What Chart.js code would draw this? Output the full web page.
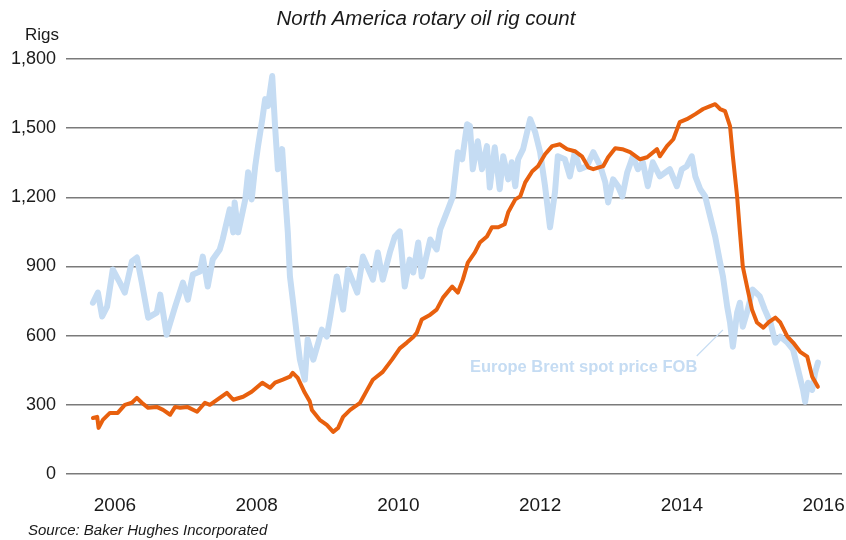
<!DOCTYPE html>
<html lang="en">
<head>
  <meta charset="UTF-8" />
  <title>North America rotary oil rig count</title>
  <style>
    * { box-sizing: border-box; margin: 0; padding: 0; }
    body {
      background: #fff;
      font-family: 'Liberation Sans', Arial, sans-serif;
      color: #1a1a1a;
    }
    .wrap {
      position: relative;
      width: 846px;
      height: 540px;
    }
    canvas { position: absolute; left: 0; top: 0; }
    .title {
      position: absolute;
      left: 0;
      width: 852px;
      top: 6px;
      text-align: center;
      font-size: 20.5px;
      font-style: italic;
    }
    .unit {
      position: absolute;
      left: 25px;
      top: 25px;
      font-size: 17px;
    }
    .source {
      position: absolute;
      left: 28px;
      top: 521px;
      font-size: 15px;
      font-style: italic;
    }
  </style>
</head>
<body>
  <div class="wrap">
    <canvas id="rigChart" width="846" height="540"></canvas>
    <div class="title">North America rotary oil rig count</div>
    <div class="unit">Rigs</div>
    <div class="source">Source: Baker Hughes Incorporated</div>
  </div>

  <script src="https://cdn.jsdelivr.net/npm/chart.js"></script>
  <script>
// axis labels
const yearTicks = [2006, 2008, 2010, 2012, 2014, 2016];
const rigTicks = [0, 300, 600, 900, 1200, 1500, 1800];

// Europe Brent spot price FOB (scaled onto the rig axis)
const brentYears = [
  2005.69, 2005.76, 2005.82, 2005.89, 2005.97, 2006.07, 2006.14, 2006.24, 2006.31, 2006.38,
  2006.47, 2006.59, 2006.64, 2006.73, 2006.85, 2006.96, 2007.03, 2007.10, 2007.20, 2007.24,
  2007.31, 2007.38, 2007.48, 2007.52, 2007.62, 2007.67, 2007.69, 2007.74, 2007.84, 2007.88,
  2007.93, 2007.98, 2008.02, 2008.08, 2008.12, 2008.16, 2008.22, 2008.26, 2008.30, 2008.36,
  2008.40, 2008.44, 2008.47, 2008.51, 2008.57, 2008.61, 2008.68, 2008.72, 2008.80, 2008.87,
  2008.92, 2008.99, 2009.04, 2009.13, 2009.22, 2009.29, 2009.42, 2009.50, 2009.64, 2009.71,
  2009.78, 2009.88, 2009.95, 2010.02, 2010.09, 2010.16, 2010.21, 2010.28, 2010.33, 2010.45,
  2010.54, 2010.59, 2010.70, 2010.77, 2010.84, 2010.90, 2010.97, 2011.01, 2011.05, 2011.12,
  2011.18, 2011.25, 2011.29, 2011.36, 2011.43, 2011.48, 2011.55, 2011.60, 2011.65, 2011.69,
  2011.76, 2011.86, 2011.93, 2012.00, 2012.07, 2012.14, 2012.21, 2012.25, 2012.35, 2012.42,
  2012.49, 2012.56, 2012.66, 2012.75, 2012.85, 2012.92, 2012.96, 2013.03, 2013.10, 2013.16,
  2013.23, 2013.31, 2013.38, 2013.45, 2013.52, 2013.59, 2013.69, 2013.83, 2013.93, 2014.00,
  2014.07, 2014.14, 2014.19, 2014.26, 2014.33, 2014.40, 2014.47, 2014.54, 2014.58, 2014.64,
  2014.68, 2014.72, 2014.78, 2014.82, 2014.86, 2014.93, 2015.00, 2015.10, 2015.17, 2015.25,
  2015.32, 2015.39, 2015.49, 2015.57, 2015.64, 2015.71, 2015.74, 2015.78, 2015.84, 2015.88,
  2015.92
];
const brentValues = [
  743, 787, 683, 726, 887, 830, 787, 922, 939, 830,
  678, 700, 778, 604, 726, 830, 756, 865, 878, 943,
  813, 930, 974, 1017, 1148, 1048, 1178, 1048, 1191, 1309,
  1191, 1335, 1422, 1539, 1626, 1596, 1726, 1509, 1322, 1409,
  1222, 1048, 857, 756, 596, 496, 409, 583, 496, 570,
  626, 596, 683, 857, 713, 887, 787, 943, 843, 961,
  843, 961, 1030, 1052, 813, 930, 874, 1004, 857, 1017,
  974, 1061, 1148, 1204, 1396, 1365, 1517, 1509, 1322, 1443,
  1322, 1422, 1243, 1417, 1235, 1378, 1278, 1352, 1248, 1365,
  1409, 1539, 1483, 1396, 1248, 1070, 1222, 1378, 1365, 1291,
  1396, 1322, 1335, 1396, 1335, 1265, 1178, 1278, 1248, 1204,
  1309, 1378, 1322, 1352, 1248, 1352, 1291, 1322, 1248, 1322,
  1335, 1378, 1291, 1235, 1204, 1117, 1030, 917, 857, 726,
  657, 552, 700, 743, 639, 713, 800, 770, 713, 657,
  570, 596, 570, 539, 452, 365, 313, 396, 365, 439,
  483
];

// rig count
const rigYears = [
  2005.69, 2005.75, 2005.77, 2005.83, 2005.93, 2006.04, 2006.14, 2006.24, 2006.31, 2006.38,
  2006.47, 2006.59, 2006.68, 2006.78, 2006.85, 2006.92, 2007.02, 2007.16, 2007.27, 2007.34,
  2007.44, 2007.58, 2007.67, 2007.81, 2007.93, 2008.08, 2008.19, 2008.26, 2008.37, 2008.47,
  2008.51, 2008.58, 2008.68, 2008.75, 2008.78, 2008.89, 2008.99, 2009.08, 2009.15, 2009.22,
  2009.32, 2009.46, 2009.56, 2009.64, 2009.78, 2009.91, 2010.02, 2010.12, 2010.21, 2010.26,
  2010.33, 2010.45, 2010.54, 2010.63, 2010.76, 2010.84, 2010.91, 2010.98, 2011.08, 2011.15,
  2011.25, 2011.32, 2011.41, 2011.50, 2011.55, 2011.65, 2011.72, 2011.79, 2011.89, 2011.97,
  2012.07, 2012.17, 2012.28, 2012.38, 2012.49, 2012.59, 2012.68, 2012.75, 2012.89, 2012.96,
  2013.06, 2013.16, 2013.27, 2013.41, 2013.51, 2013.65, 2013.69, 2013.79, 2013.88, 2013.97,
  2014.07, 2014.19, 2014.30, 2014.40, 2014.47, 2014.54, 2014.61, 2014.68, 2014.72, 2014.78,
  2014.82, 2014.86, 2014.92, 2014.99, 2015.06, 2015.15, 2015.22, 2015.32, 2015.39, 2015.49,
  2015.57, 2015.67, 2015.77, 2015.84, 2015.92
];
const rigValues = [
  243, 248, 200, 235, 265, 265, 300, 309, 330, 309,
  287, 291, 278, 257, 291, 287, 291, 270, 309, 300,
  322, 352, 322, 335, 357, 396, 374, 396, 409, 422,
  439, 417, 352, 315, 278, 235, 213, 183, 200, 248,
  278, 309, 365, 409, 443, 496, 545, 570, 594, 613,
  670, 691, 713, 765, 813, 787, 843, 917, 961, 1004,
  1030, 1070, 1070, 1083, 1135, 1191, 1204, 1265, 1313, 1335,
  1387, 1422, 1430, 1409, 1400, 1378, 1330, 1322, 1335, 1374,
  1413, 1409, 1396, 1365, 1374, 1409, 1378, 1422, 1452, 1526,
  1539, 1561, 1583, 1596, 1604, 1583, 1574, 1509, 1378, 1204,
  1048, 900, 813, 713, 657, 635, 657, 678, 657, 596,
  570, 530, 509, 422, 378
];

const toPoints = (xs, ys) => xs.map((x, i) => ({ x, y: ys[i] }));

const BLUE = '#c5dcf3';
const ORANGE = '#e8600e';

// label for the Brent series with its leader line, placed in data units
const brentLabel = {
  id: 'brentLabel',
  afterDatasetsDraw(chart) {
    const { ctx, scales: { x, y } } = chart;
    ctx.save();
    ctx.strokeStyle = BLUE;
    ctx.lineWidth = 1.2;
    ctx.beginPath();
    ctx.moveTo(x.getPixelForValue(2014.21), y.getPixelForValue(512));
    ctx.lineTo(x.getPixelForValue(2014.58), y.getPixelForValue(625));
    ctx.stroke();
    ctx.fillStyle = BLUE;
    ctx.font = 'bold 16.5px "Liberation Sans", Arial, sans-serif';
    ctx.textBaseline = 'middle';
    ctx.fillText('Europe Brent spot price FOB', x.getPixelForValue(2011.01), y.getPixelForValue(460));
    ctx.restore();
  }
};

new Chart(document.getElementById('rigChart'), {
  type: 'line',
  data: {
    datasets: [
      {
        label: 'Rig count',
        data: toPoints(rigYears, rigValues),
        borderColor: ORANGE,
        borderWidth: 4,
        pointRadius: 0,
        tension: 0,
        borderJoinStyle: 'round',
        borderCapStyle: 'round'
      },
      {
        label: 'Europe Brent spot price FOB',
        data: toPoints(brentYears, brentValues),
        borderColor: BLUE,
        borderWidth: 6,
        pointRadius: 0,
        tension: 0,
        borderJoinStyle: 'round',
        borderCapStyle: 'round'
      }
    ]
  },
  options: {
    responsive: false,
    animation: false,
    events: [],
    layout: { padding: { top: 59, left: 0, right: 4, bottom: 0 } },
    plugins: {
      legend: { display: false },
      tooltip: { enabled: false }
    },
    scales: {
      x: {
        type: 'linear',
        min: 2005.31,
        max: 2016.26,
        grid: { display: false },
        border: { display: false },
        afterBuildTicks: s => { s.ticks = yearTicks.map(v => ({ value: v })); },
        afterFit: s => { s.height = 66; s.paddingLeft = 0; s.paddingRight = 0; },
        ticks: {
          padding: 12,
          color: '#1a1a1a',
          font: { family: "'Liberation Sans', Arial, sans-serif", size: 19 },
          callback: v => String(v)
        }
      },
      y: {
        min: 0,
        max: 1800,
        afterBuildTicks: s => { s.ticks = rigTicks.map(v => ({ value: v })); },
        afterFit: s => { s.width = 66; s.paddingTop = 0; s.paddingBottom = 0; },
        grid: { color: '#7a7a7a', lineWidth: 1.6, drawTicks: false },
        border: { display: false },
        ticks: {
          padding: 10,
          color: '#1a1a1a',
          font: { family: "'Liberation Sans', Arial, sans-serif", size: 18 },
          callback: v => v.toLocaleString('en-US')
        }
      }
    }
  },
  plugins: [brentLabel]
});
  </script>
</body>
</html>
